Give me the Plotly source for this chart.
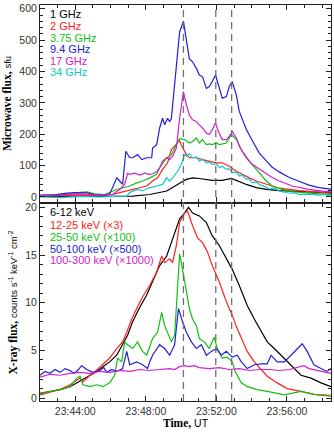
"""
Microwave and hard X-ray light curves of the flare, two stacked panels.
"""
import pandas as pd
import plotly.graph_objects as go

DAY = "2000-01-01"
T0 = pd.Timestamp(f"{DAY} 23:42:00")

# ---- microwave flux, sfu (time in seconds after 23:42:00 UT)
t_1ghz = [0, 68, 136, 203, 271, 315, 373, 407, 431, 451, 475, 492, 498, 519, 542, 566, 586, 620,
          651, 668, 702, 736, 770, 814, 881, 990]
f_1ghz = [2, 2, 3, 3, 3, 3, 8, 14, 19, 30, 45, 53, 56, 61, 59, 56, 53, 53,
          59, 53, 40, 30, 24, 20, 17, 13]

t_2ghz = [0, 68, 136, 203, 247, 271, 295, 315, 339, 363, 383, 400, 417, 434, 447, 458, 468, 475,
          481, 492, 498, 508, 532, 553, 576, 600, 620, 644, 668, 688, 712, 736, 770, 814, 881, 949, 990]
f_2ghz = [3, 5, 6, 5, 8, 14, 19, 24, 30, 35, 51, 61, 88, 109, 151, 162, 172, 180,
          165, 145, 135, 125, 125, 119, 114, 109, 109, 98, 82, 72, 61, 51, 40, 28, 20, 14, 12]

t_375ghz = [0, 51, 102, 136, 159, 186, 220, 261, 281, 305, 329, 349, 373, 397, 407, 431, 447, 464,
            475, 492, 508, 519, 532, 542, 553, 566, 576, 586, 600, 610, 634, 651, 668, 688, 712, 736,
            756, 770, 790, 824, 858, 915, 990]
f_375ghz = [5, 7, 10, 15, 16, 10, 8, 24, 30, 35, 45, 51, 61, 72, 93, 125, 135, 167,
            186, 183, 172, 177, 188, 172, 183, 167, 169, 167, 172, 167, 172, 199, 183, 146, 114, 88,
            67, 51, 35, 24, 17, 12, 8]

t_94ghz = [0, 51, 92, 119, 159, 186, 220, 237, 247, 261, 271, 281, 292, 305, 315, 332, 346, 363,
           380, 383, 397, 407, 417, 424, 434, 441, 447, 451, 464, 475, 488, 498, 508, 519, 532, 542,
           553, 566, 576, 586, 597, 607, 620, 634, 644, 654, 668, 678, 702, 722, 746, 770, 790, 814,
           848, 881, 915, 949, 990]
f_94ghz = [5, 7, 12, 14, 13, 8, 5, 10, 30, 61, 51, 40, 146, 125, 125, 135, 119, 125,
           125, 156, 167, 220, 251, 230, 251, 240, 251, 294, 420, 526, 560, 505, 441, 431, 410, 389,
           383, 346, 352, 368, 389, 357, 315, 320, 352, 368, 325, 273, 215, 180, 140, 115, 95, 80,
           62, 50, 38, 30, 25]

t_17ghz = [0, 68, 119, 159, 203, 247, 271, 288, 298, 305, 322, 339, 356, 373, 383, 397, 407, 417,
           431, 441, 451, 464, 475, 488, 498, 508, 519, 532, 542, 553, 566, 576, 586, 597, 607, 620,
           634, 644, 654, 668, 678, 702, 722, 746, 770, 790, 814, 858, 915, 973, 990]
f_17ghz = [5, 6, 10, 9, 5, 8, 24, 40, 75, 72, 76, 70, 76, 72, 74, 80, 93, 114,
           125, 119, 130, 156, 251, 336, 294, 262, 246, 241, 230, 220, 204, 199, 214, 236, 209, 183,
           183, 193, 209, 188, 162, 125, 104, 90, 75, 62, 51, 35, 24, 17, 19]

t_34ghz = [0, 68, 136, 203, 254, 295, 305, 329, 349, 373, 397, 417, 431, 441, 451, 468, 481, 492,
           498, 508, 519, 532, 542, 553, 566, 576, 586, 600, 610, 620, 634, 644, 654, 668, 678, 688,
           702, 712, 722, 736, 746, 763, 780, 797, 814, 831, 848, 864, 881, 915, 949, 966, 990]
f_34ghz = [0, -2, 2, 0, 2, 3, 14, 24, 20, 30, 35, 40, 61, 51, 61, 82, 104, 135,
           130, 138, 125, 128, 114, 120, 109, 112, 104, 106, 93, 98, 88, 90, 77, 80, 67, 70,
           56, 58, 45, 48, 40, 34, 25, 28, 19, 16, 12, 14, 8, 9, 6, 8, 3]

# ---- X-ray flux, counts s^-1 keV^-1 cm^-2 (scaled as in the legend)
t_6_12 = [0, 34, 68, 102, 125, 146, 170, 193, 214, 237, 261, 281, 298, 315, 339, 363, 373, 407,
          431, 451, 475, 492, 505, 519, 542, 566, 586, 610, 634, 654, 678, 705, 729, 753, 773, 797,
          820, 841, 864, 888, 922, 956, 990]
x_6_12 = [0.5, 0.7, 0.9, 1.2, 1.6, 1.9, 2.4, 2.8, 3.3, 3.8, 4.5, 5.6, 6.6, 8.0, 9.5, 10.8, 11.5, 13.9,
          14.9, 16.7, 18.8, 19.4, 20.0, 19.4, 19.1, 18.4, 17.0, 16.0, 14.6, 13.5, 11.8, 9.7, 8.3, 6.9,
          5.9, 5.2, 4.5, 3.8, 3.1, 2.4, 2.1, 1.6, 1.2]

t_12_25 = [0, 68, 102, 125, 136, 146, 170, 193, 214, 237, 261, 281, 295, 312, 329, 349, 373, 397,
           414, 424, 441, 451, 464, 475, 492, 502, 519, 536, 553, 570, 586, 610, 634, 654, 668, 685,
           705, 729, 753, 773, 807, 841, 888, 932, 990]
x_12_25 = [0.35, 0.9, 1.4, 1.9, 2.1, 1.7, 2.4, 2.95, 3.5, 4.2, 5.2, 5.9, 6.9, 8.3, 9.4, 10.6, 11.8, 13.2,
           14.9, 14.2, 14.6, 14.2, 16.0, 18.4, 19.4, 19.6, 18.1, 16.8, 16.3, 15.3, 13.9, 12.2, 10.1, 8.7,
           7.5, 6.25, 4.9, 3.8, 2.95, 2.3, 1.6, 1.0, 0.7, 0.4, 0.2]

t_25_50 = [0, 34, 68, 102, 125, 136, 146, 170, 193, 214, 237, 254, 264, 278, 288, 298, 315, 332,
           349, 363, 383, 400, 414, 424, 434, 447, 458, 468, 475, 485, 498, 508, 519, 532, 542, 559,
           576, 593, 603, 620, 637, 654, 664, 685, 705, 739, 773, 831, 888, 932, 990]
x_25_50 = [0.5, 0.7, 0.9, 1.2, 2.1, 2.3, 1.4, 1.2, 1.4, 1.2, 1.6, 2.4, 4.2, 3.8, 5.9, 5.6, 5.2, 5.9,
           4.9, 4.5, 6.25, 6.9, 9.0, 7.6, 6.9, 5.9, 6.6, 11.5, 15.1, 13.5, 11.1, 9.4, 8.3, 7.6, 6.25, 5.9,
           5.2, 6.4, 5.2, 4.2, 4.3, 3.8, 2.8, 1.6, 1.2, 0.9, 0.7, 0.35, 0.7, 0.4, 0.3]

t_50_100 = [0, 17, 34, 51, 68, 85, 102, 115, 125, 142, 159, 180, 203, 217, 227, 244, 261, 281,
            295, 305, 329, 349, 366, 373, 383, 407, 424, 441, 458, 471, 485, 498, 515, 532, 549, 566,
            583, 600, 617, 634, 654, 671, 685, 705, 729, 753, 773, 786, 807, 831, 854, 875, 892, 909,
            932, 956, 976, 990]
x_50_100 = [2.4, 2.8, 2.6, 3.0, 2.7, 3.1, 2.9, 2.6, 2.8, 3.4, 3.0, 2.7, 2.9, 3.2, 2.7, 3.0, 2.8, 3.1,
            4.9, 3.5, 3.8, 3.5, 3.1, 3.8, 4.5, 5.6, 5.2, 4.5, 5.6, 9.4, 8.0, 6.9, 5.9, 5.2, 5.6, 4.5,
            4.9, 5.2, 4.5, 4.9, 4.3, 4.5, 3.8, 3.1, 3.5, 3.6, 3.6, 4.5, 3.8, 3.8, 4.5, 5.2, 5.7, 4.9,
            3.5, 3.1, 2.8, 3.1]

t_100_300 = [0, 34, 68, 102, 136, 170, 203, 237, 271, 305, 339, 373, 407, 441, 458, 475, 492, 508,
             525, 542, 576, 610, 644, 678, 712, 746, 780, 814, 848, 881, 898, 915, 949, 990]
x_100_300 = [2.2, 2.5, 2.4, 2.6, 2.7, 2.6, 2.8, 2.7, 2.9, 2.8, 3.0, 2.9, 3.0, 3.1, 3.0, 3.3, 3.4, 3.3,
             3.4, 3.2, 3.1, 3.2, 3.0, 3.1, 2.9, 3.0, 3.0, 2.9, 3.0, 3.3, 3.4, 3.1, 2.9, 2.6]

dash_times = ["23:50:08", "23:51:58", "23:52:52"]

mw_series = [
    ("1 GHz", t_1ghz, f_1ghz, "#000000"),
    ("2 GHz", t_2ghz, f_2ghz, "#ff2020"),
    ("3.75 GHz", t_375ghz, f_375ghz, "#10c010"),
    ("9.4 GHz", t_94ghz, f_94ghz, "#2020d8"),
    ("17 GHz", t_17ghz, f_17ghz, "#d020d0"),
    ("34 GHz", t_34ghz, f_34ghz, "#10c8c8"),
]
xr_series = [
    ("6-12 keV", t_6_12, x_6_12, "#000000"),
    ("12-25 keV (×3)", t_12_25, x_12_25, "#ff2020"),
    ("25-50 keV (×100)", t_25_50, x_25_50, "#10c010"),
    ("50-100 keV (×500)", t_50_100, x_50_100, "#2020d8"),
    ("100-300 keV (×1000)", t_100_300, x_100_300, "#d020d0"),
]


def to_time(secs):
    return T0 + pd.to_timedelta(secs, unit="s")


# page geometry, px
W, H = 334, 432
ML, MR, MT, MB = 40, 2, 3, 31
PLOT_H = H - MT - MB


def py(ypx):
    """pixel row -> paper y"""
    return (H - MB - ypx) / PLOT_H


fig = go.Figure()

for name, t, v, c in mw_series:
    fig.add_trace(go.Scatter(x=to_time(t), y=v, mode="lines", name=name,
                             line=dict(color=c, width=1.2), xaxis="x", yaxis="y"))
for name, t, v, c in xr_series:
    fig.add_trace(go.Scatter(x=to_time(t), y=v, mode="lines", name=name,
                             line=dict(color=c, width=1.2), xaxis="x2", yaxis="y2"))

for tt in dash_times:
    fig.add_shape(type="line", xref="x", yref="paper",
                  x0=f"{DAY} {tt}", x1=f"{DAY} {tt}", y0=0, y1=1,
                  line=dict(color="#707070", width=1.3, dash="7px,5px"))

# legend text
lab_font = "Liberation Sans"
for i, (name, _, _, c) in enumerate(mw_series):
    fig.add_annotation(text=name, xref="paper", yref="paper", x=0.026, y=py(12.3 + 11.7 * i),
                       xanchor="left", yanchor="middle", showarrow=False,
                       font=dict(family=lab_font, size=11, color=c))
for ypx, (name, _, _, c) in zip([211, 224, 236, 248, 259.5], xr_series):
    fig.add_annotation(text=name, xref="paper", yref="paper", x=0.026, y=py(ypx),
                       xanchor="left", yanchor="middle", showarrow=False,
                       font=dict(family=lab_font, size=11, color=c))

tick_font = dict(family="Liberation Sans", size=10.5, color="#333333")
title_font = dict(family="Liberation Serif", size=11.5, color="#000000")
xrange = [f"{DAY} 23:42:00", f"{DAY} 23:58:30"]

common_x = dict(type="date", range=xrange, tick0=f"{DAY} 23:44:00", dtick=240000,
                tickformat="%H:%M:%S", ticks="inside", ticklen=5, tickcolor="#222",
                showline=True, linecolor="#222", linewidth=1, mirror="allticks",
                showgrid=False, zeroline=False, tickfont=tick_font,
                minor=dict(dtick=60000, ticks="inside", ticklen=3, tickcolor="#222"))
common_y = dict(ticks="inside", ticklen=5, tickcolor="#222", showline=True, linecolor="#222",
                linewidth=1, mirror="allticks", showgrid=False, zeroline=False,
                tickfont=tick_font)

top_dom = [py(201), 1]
bot_dom = [0, py(203)]

fig.update_layout(
    width=W, height=H,
    margin=dict(l=ML, r=MR, t=MT, b=MB),
    paper_bgcolor="white", plot_bgcolor="white",
    showlegend=False,
    xaxis=dict(common_x, anchor="y", domain=[0, 1], showticklabels=False),
    xaxis2=dict(common_x, anchor="y2", domain=[0, 1],
                title=dict(text="<b>Time,</b> <span style='font-family:Liberation Sans;"
                                "font-size:10.5px;font-weight:normal'>UT</span>",
                           font=title_font, standoff=3)),
    yaxis=dict(common_y, domain=top_dom, range=[-16, 612], dtick=100,
               minor=dict(dtick=20, ticks="inside", ticklen=3, tickcolor="#222"),
               title=dict(text="<b>Microwave flux,</b> <span style='font-family:Liberation Sans;"
                               "font-size:9.5px'>sfu</span>",
                          font=title_font, standoff=5)),
    yaxis2=dict(common_y, domain=bot_dom, range=[-0.3, 20.35], dtick=5,
                minor=dict(dtick=1, ticks="inside", ticklen=3, tickcolor="#222"),
                title=dict(text="<b>X-ray flux,</b> <span style='font-family:Liberation Sans;"
                                "font-size:9.5px'>counts s<sup>-1</sup> keV<sup>-1</sup> "
                                "cm<sup>-2</sup></span>",
                           font=title_font, standoff=5)),
)

# the page body has a default 8px margin; drop it so the figure fills the window
fig.write_html("out.html", config={"displayModeBar": False},
               post_script="document.body.style.margin='0';")
